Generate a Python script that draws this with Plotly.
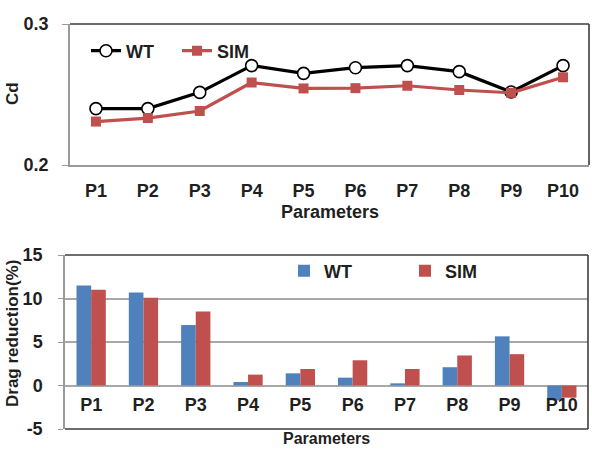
import plotly.graph_objects as go

params = ["P1", "P2", "P3", "P4", "P5", "P6", "P7", "P8", "P9", "P10"]
cd_wt = [0.240, 0.240, 0.2515, 0.2705, 0.265, 0.269, 0.2705, 0.2662, 0.2518, 0.2705]
cd_sim = [0.2308, 0.2333, 0.2383, 0.2585, 0.2543, 0.2545, 0.2562, 0.2532, 0.2512, 0.2622]
dr_wt = [11.5, 10.7, 6.95, 0.4, 1.4, 0.9, 0.25, 2.1, 5.65, -1.7]
dr_sim = [11.0, 10.1, 8.5, 1.25, 1.9, 2.9, 1.9, 3.45, 3.6, -1.4]
dr_ticks = [-5, 0, 5, 10, 15]
dr_ticktext = ["-5", "0", "5", "10", "15"]

W, H = 592, 450
FONT = "Liberation Sans, Arial, sans-serif"
TXT = "#1f1f1f"
BLUE = "#4F81BD"
RED = "#C0504D"


def px_x(p):
    return p / W


def px_y(p):
    return 1 - p / H


# plot area pixel boxes
T_L, T_R, T_T, T_B = 70, 589, 24, 165
B_L, B_R, B_T, B_B = 65, 588, 255, 429

fig = go.Figure()

fig.add_trace(go.Scatter(
    x=params, y=cd_wt, name="WT", mode="lines+markers",
    line=dict(color="#000000", width=3.2),
    marker=dict(symbol="circle", size=12, color="white", line=dict(color="#000000", width=1.6)),
    xaxis="x", yaxis="y", legend="legend"))
fig.add_trace(go.Scatter(
    x=params, y=cd_sim, name="SIM", mode="lines+markers",
    line=dict(color=RED, width=3.2),
    marker=dict(symbol="square", size=10, color=RED),
    xaxis="x", yaxis="y", legend="legend"))

fig.add_trace(go.Bar(x=params, y=dr_wt, name="WT", marker=dict(color=BLUE, line=dict(width=0)),
                     xaxis="x2", yaxis="y2", legend="legend2"))
fig.add_trace(go.Bar(x=params, y=dr_sim, name="SIM", marker=dict(color=RED, line=dict(width=0)),
                     xaxis="x2", yaxis="y2", legend="legend2"))

tick_font = dict(family=FONT, size=18, color=TXT, weight="bold")

y2_min, y2_max = -5, 15
zero_pos = px_y(B_B) + (0 - y2_min) / (y2_max - y2_min) * (px_y(B_T) - px_y(B_B))

fig.update_layout(
    width=W, height=H,
    margin=dict(l=0, r=0, t=0, b=0, autoexpand=False),
    paper_bgcolor="white", plot_bgcolor="white",
    font=dict(family=FONT, color=TXT),
    barmode="group", bargap=0.44, bargroupgap=0.0,
    xaxis=dict(domain=[px_x(T_L), px_x(T_R)], anchor="y", type="category", automargin=False,
               range=[-0.5, 9.5], showgrid=False, showline=True, linecolor="#9a9a9a", linewidth=1.5,
               ticks="outside", ticklen=9, tickcolor="rgba(0,0,0,0)", tickfont=tick_font),
    yaxis=dict(domain=[px_y(T_B), px_y(T_T)], anchor="x", range=[0.2, 0.3], automargin=False,
               tickvals=[0.2, 0.3], ticktext=["0.2", "0.3"], showgrid=False, zeroline=False,
               showline=True, linecolor="#9a9a9a", linewidth=1.5,
               ticks="outside", ticklen=6, tickcolor="#9a9a9a", ticklabelstandoff=10,
               tickfont=tick_font),
    xaxis2=dict(domain=[px_x(B_L), px_x(B_R)], anchor="free", position=zero_pos, type="category",
                automargin=False,
                range=[-0.5, 9.5], showgrid=False, showline=False,
                ticks="outside", ticklen=3, tickcolor="rgba(0,0,0,0)", tickfont=tick_font),
    yaxis2=dict(domain=[px_y(B_B), px_y(B_T)], anchor="x2", range=[y2_min, y2_max], automargin=False,
                tickvals=dr_ticks, ticktext=dr_ticktext,
                showgrid=True, gridcolor="#a8a8a8", gridwidth=1.5,
                zeroline=True, zerolinecolor="#a8a8a8", zerolinewidth=1.5,
                showline=True, linecolor="#9a9a9a", linewidth=1.5,
                ticks="outside", ticklen=5, tickcolor="#9a9a9a", ticklabelstandoff=12,
                tickfont=tick_font),
    legend=dict(orientation="h", x=px_x(86), y=px_y(51), xanchor="left", yanchor="middle",
                bgcolor="rgba(0,0,0,0)", entrywidth=46, entrywidthmode="pixels",
                font=dict(family=FONT, size=18, color=TXT, weight="bold"), itemclick=False),
    legend2=dict(orientation="h", x=px_x(284), y=px_y(271), xanchor="left", yanchor="middle",
                 bgcolor="rgba(0,0,0,0)", entrywidth=76, entrywidthmode="pixels",
                 font=dict(family=FONT, size=18, color=TXT, weight="bold"), itemclick=False),
    showlegend=True,
)

# plot-area borders (top and right darker, as in the original)
border = dict(color="#3c3c3c", width=1.6)
fig.add_shape(type="line", xref="x domain", yref="y domain", x0=0, x1=1, y0=1, y1=1, line=border)
fig.add_shape(type="line", xref="x domain", yref="y domain", x0=1, x1=1, y0=0, y1=1, line=border)
fig.add_shape(type="line", xref="x2 domain", yref="y2 domain", x0=0, x1=1, y0=1, y1=1, line=border)
fig.add_shape(type="line", xref="x2 domain", yref="y2 domain", x0=1, x1=1, y0=0, y1=1, line=border)
fig.add_shape(type="line", xref="x2 domain", yref="y2 domain", x0=0, x1=1, y0=0, y1=0, line=border)

title_font = dict(family=FONT, size=18, color=TXT, weight="bold")
fig.add_annotation(text="Parameters", x=(px_x(T_L) + px_x(T_R)) / 2, y=px_y(212), xref="paper", yref="paper",
                   showarrow=False, font=title_font, xanchor="center", yanchor="middle")
fig.add_annotation(text="Parameters", x=(px_x(B_L) + px_x(B_R)) / 2, y=px_y(449), xref="paper", yref="paper",
                   showarrow=False, font=dict(family=FONT, size=16, color=TXT, weight="bold"),
                   xanchor="center", yanchor="bottom")
fig.add_annotation(text="Cd", x=px_x(12), y=px_y(94), xref="paper", yref="paper", textangle=-90,
                   showarrow=False, font=dict(family=FONT, size=17, color=TXT, weight="bold"),
                   xanchor="center", yanchor="middle")
fig.add_annotation(text="Drag reduction(%)", x=px_x(12), y=px_y(334), xref="paper", yref="paper",
                   textangle=-90, showarrow=False,
                   font=dict(family=FONT, size=17, color=TXT, weight="bold"),
                   xanchor="center", yanchor="middle")

fig.write_html("out.html")
